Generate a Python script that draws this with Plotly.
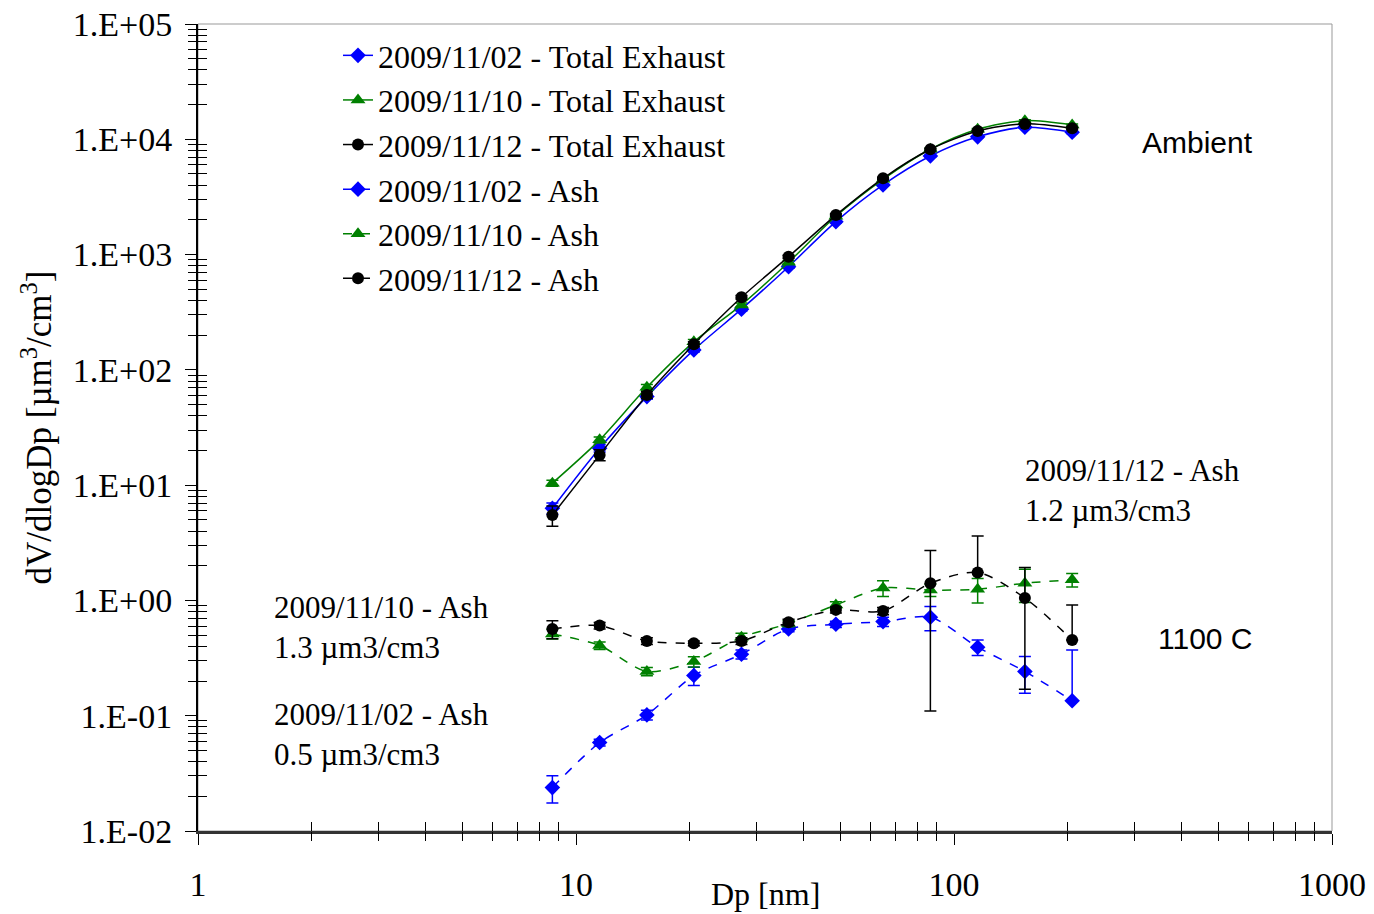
import plotly.graph_objects as go

# ---------------- data ----------------
dp = [8.66, 11.55, 15.4, 20.5, 27.4, 36.5, 48.7, 64.9, 86.6, 115.5, 154.0, 205.4]

te_1102 = [6.3, 20.9, 58.6, 149, 336, 785, 1930, 4020, 7160, 10500, 12700, 11500]
te_1110 = [10.4, 24.7, 70.6, 175, 366, 857, 2150, 4500, 8200, 12200, 14500, 13300]
te_1112 = [5.5, 18.3, 60.6, 167, 426, 959, 2200, 4590, 8190, 11800, 13600, 12450]

te_1102_err = [0.7, 1.5, 3, 6, 12, 25, 50, 100, 150, 200, 250, 250]
te_1110_err = [0.6, 1.5, 4, 8, 15, 30, 60, 100, 150, 200, 250, 250]
te_1112_err = [1.1, 2.0, 4, 8, 15, 30, 60, 100, 150, 200, 250, 250]

ash_1102 = [0.0238, 0.0585, 0.1016, 0.223, 0.341, 0.566, 0.621, 0.655, 0.715, 0.393, 0.242, 0.135]
ash_1110 = [0.512, 0.406, 0.242, 0.295, 0.48, 0.63, 0.914, 1.28, 1.23, 1.25, 1.41, 1.51]
ash_1112 = [0.566, 0.605, 0.445, 0.425, 0.445, 0.647, 0.828, 0.81, 1.41, 1.75, 1.05, 0.454]

ash_1102_err_plus = [0.0063, 0.004, 0.01, 0.04, 0.03, 0.03, 0.04, 0.06, 0.17, 0.06, 0.085, 0.236]
ash_1102_err_minus = [0.0063, 0.004, 0.01, 0.04, 0.03, 0.03, 0.04, 0.06, 0.17, 0.06, 0.085, 0.0]
ash_1110_err = [0.05, 0.03, 0.02, 0.03, 0.04, 0.04, 0.06, 0.2, 0.15, 0.3, 0.45, 0.2]
ash_1112_err_plus = [0.1, 0.04, 0.03, 0.02, 0.03, 0.04, 0.05, 0.06, 1.3, 1.87, 0.88, 0.46]
ash_1112_err_minus = [0.1, 0.04, 0.03, 0.02, 0.03, 0.04, 0.05, 0.06, 1.3, 0.0, 0.88, 0.0]

names = ["2009/11/02 - Total Exhaust", "2009/11/10 - Total Exhaust", "2009/11/12 - Total Exhaust",
         "2009/11/02 - Ash", "2009/11/10 - Ash", "2009/11/12 - Ash"]

y_decades = [0.01, 0.1, 1, 10, 100, 1000, 10000, 100000]
y_ticktext = ["1.E-02", "1.E-01", "1.E+00", "1.E+01", "1.E+02", "1.E+03", "1.E+04", "1.E+05"]
x_decades = [1, 10, 100, 1000]
x_ticktext = ["1", "10", "100", "1000"]

# minor tick positions (axis furniture, 2..9 within each decade)
x_minor = [d * k for d in x_decades[:-1] for k in range(2, 10)]
y_minor = [d * k for d in y_decades[:-1] for k in range(2, 10)]

BLUE = "#0000FF"
GREEN = "#008000"
BLACK = "#000000"
SERIF = "Liberation Serif"
SANS = "Liberation Sans"

L, R, T, B = 198, 42, 24, 83
PW = 1374 - L - R
PH = 914 - T - B

fig = go.Figure()

def add(y, name, color, symbol, msize, dash, plus, minus=None):
    err = dict(type="data", array=plus, color=color, thickness=1.5, width=6, visible=True)
    if minus is not None:
        err["symmetric"] = False
        err["arrayminus"] = minus
    fig.add_trace(go.Scatter(
        x=dp, y=y, name=name, mode="lines+markers",
        line=dict(color=color, width=1.5, dash=dash, shape="spline", smoothing=0.8),
        marker=dict(color=color, symbol=symbol, size=msize),
        error_y=err,
    ))

add(te_1102, names[0], BLUE, "diamond", 12, "solid", te_1102_err)
add(te_1110, names[1], GREEN, "triangle-up", 13, "solid", te_1110_err)
add(te_1112, names[2], BLACK, "circle", 12, "solid", te_1112_err)
add(ash_1102, names[3], BLUE, "diamond", 12, "dash", ash_1102_err_plus, ash_1102_err_minus)
add(ash_1110, names[4], GREEN, "triangle-up", 13, "dash", ash_1110_err)
add(ash_1112, names[5], BLACK, "circle", 12, "dash", ash_1112_err_plus, ash_1112_err_minus)

# invisible helper traces to activate the overlay (minor-tick) axes
for xa, ya in (("x2", "y2"), ("x3", "y3")):
    fig.add_trace(go.Scatter(x=[dp[0]], y=[te_1102[0]], xaxis=xa, yaxis=ya, mode="markers",
                             marker=dict(opacity=0), showlegend=False, hoverinfo="skip"))

def px_to_logx(px):
    return (px - L) / PW * 3.0

def px_to_logy(py):
    return 5.0 - (py - T) / PH * 7.0

annots = [
    dict(xref="x", yref="y", x=px_to_logx(1255), y=px_to_logy(142), text="Ambient",
         font=dict(family=SANS, size=30, color="black"), xanchor="right", yanchor="middle"),
    dict(xref="x", yref="y", x=px_to_logx(1255), y=px_to_logy(638), text="1100 C",
         font=dict(family=SANS, size=30, color="black"), xanchor="right", yanchor="middle"),
    dict(xref="x", yref="y", x=px_to_logx(1023), y=px_to_logy(490),
         text="2009/11/12 - Ash<br>1.2 µm3/cm3",
         font=dict(family=SERIF, size=31, color="black"), xanchor="left", yanchor="middle", align="left"),
    dict(xref="x", yref="y", x=px_to_logx(272), y=px_to_logy(627),
         text="2009/11/10 - Ash<br>1.3 µm3/cm3",
         font=dict(family=SERIF, size=31, color="black"), xanchor="left", yanchor="middle", align="left"),
    dict(xref="x", yref="y", x=px_to_logx(272), y=px_to_logy(734),
         text="2009/11/02 - Ash<br>0.5 µm3/cm3",
         font=dict(family=SERIF, size=31, color="black"), xanchor="left", yanchor="middle", align="left"),
    dict(xref="paper", yref="paper", x=0.5, y=-(874 - (T + PH)) / PH, text="Dp [nm]",
         font=dict(family=SERIF, size=32, color="black"), xanchor="center", yanchor="top"),
]
for a in annots:
    a["showarrow"] = False

minor_common = dict(showticklabels=False, tickwidth=1, tickcolor="black", ticklen=9,
                    showgrid=False, zeroline=False, showline=False)

fig.update_layout(
    width=1374, height=914,
    margin=dict(l=L, r=R, t=T, b=B, autoexpand=False),
    plot_bgcolor="white", paper_bgcolor="white",
    showlegend=True,
    legend=dict(x=(338 - L) / PW, y=0.995, xanchor="left", yanchor="top",
                font=dict(family=SERIF, size=32, color="black"),
                bgcolor="rgba(0,0,0,0)", tracegroupgap=0),
    annotations=annots,
    shapes=[dict(type="rect", xref="paper", yref="paper", x0=0, x1=1, y0=0, y1=1,
                 line=dict(color="#999999", width=1), layer="below")],
    xaxis=dict(type="log", range=[0, 3], tickvals=x_decades, ticktext=x_ticktext,
               ticks="outside", ticklen=11, tickwidth=1, tickcolor="black",
               showline=True, linecolor="#333333", linewidth=3,
               showgrid=False, zeroline=False,
               tickfont=dict(family=SERIF, size=34, color="black"),
               ticklabelstandoff=10, automargin=False),
    yaxis=dict(type="log", range=[-2, 5], tickvals=y_decades, ticktext=y_ticktext,
               ticks="outside", ticklen=11, tickwidth=1, tickcolor="black",
               showline=True, linecolor="black", linewidth=2,
               showgrid=False, zeroline=False,
               tickfont=dict(family=SERIF, size=34, color="black"),
               ticklabelstandoff=6, automargin=False,
               title=dict(text="dV/dlogDp [µm<sup>3</sup>/cm<sup>3</sup>]",
                          font=dict(family=SERIF, size=35, color="black"), standoff=10)),
    xaxis2=dict(type="log", range=[0, 3], overlaying="x", side="bottom",
                tickvals=x_minor, ticks="inside", **minor_common),
    yaxis2=dict(type="log", range=[-2, 5], overlaying="y", side="left",
                tickvals=y_minor, ticks="inside", **minor_common),
    xaxis3=dict(type="log", range=[0, 3], overlaying="x", side="bottom",
                tickvals=x_minor, ticks="outside", **minor_common),
    yaxis3=dict(type="log", range=[-2, 5], overlaying="y", side="left",
                tickvals=y_minor, ticks="outside", **minor_common),
)

fig.write_html("out.html", config={"displayModeBar": False},
               post_script="document.body.style.margin='0px';document.body.style.overflow='hidden';")
